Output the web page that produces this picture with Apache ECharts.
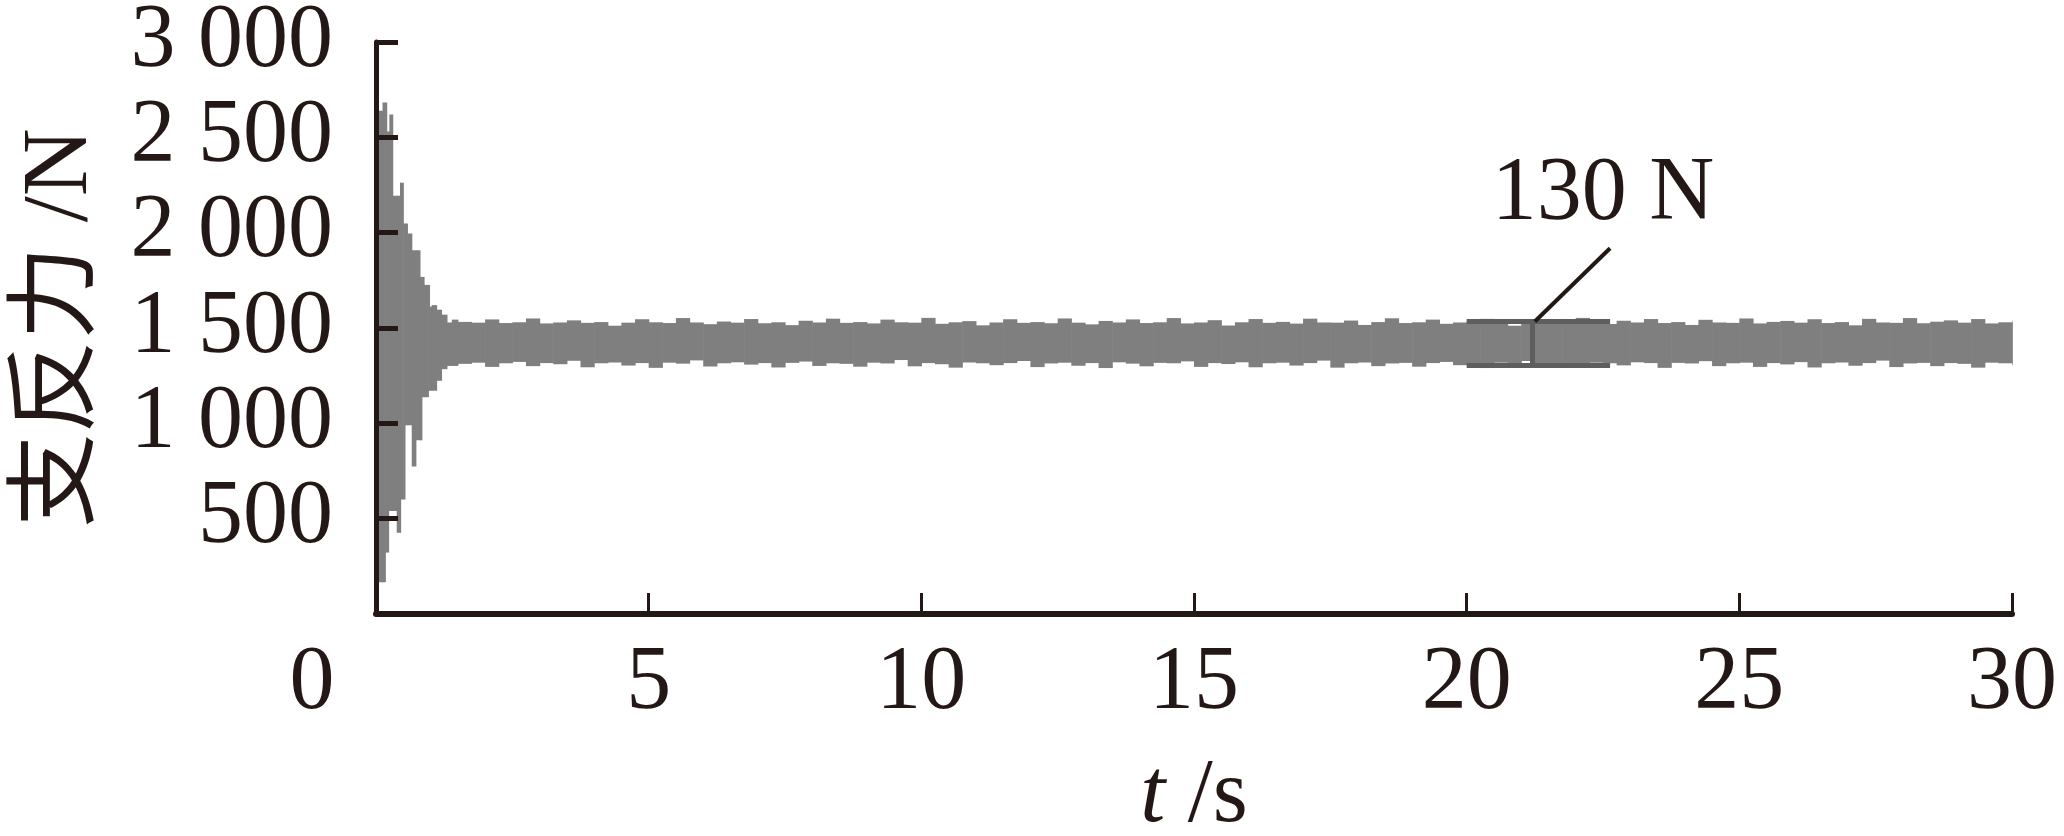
<!DOCTYPE html>
<html>
<head>
<meta charset="utf-8">
<script src="https://cdn.jsdelivr.net/npm/echarts@6.0.0/dist/echarts.min.js"></script>
<style>
html,body{margin:0;padding:0;background:#fff;}
#chart{width:2064px;height:836px;}
</style>
</head>
<body>
<div id="chart"></div>
<script>
// ---- data ----
const xTicks = [0, 5, 10, 15, 20, 25, 30];
const yTicks = [0, 500, 1000, 1500, 2000, 2500, 3000];

// transient part: envelope of the oscillation (s, N)
const transientT     = [0.00, 0.12, 0.17, 0.195, 0.23, 0.245, 0.305, 0.38, 0.44, 0.45, 0.50, 0.53, 0.575, 0.655, 0.73, 0.805, 0.84, 0.88, 0.96, 0.98, 1.02, 1.11, 1.20, 1.30, 1.39];
const transientUpper = [2640, 2683, 2683, 2530, 2530, 2620, 2194, 2194, 2262, 2262, 2048, 2048, 1996, 1908, 1908, 1768, 1768, 1726, 1726, 1612, 1620, 1596, 1570, 1529, 1544];
const transientLower = [166, 166, 322, 322, 540, 540, 540, 426, 426, 600, 600, 990, 990, 773, 911, 911, 1137, 1137, 1171, 1171, 1171, 1223, 1284, 1301, 1301];

// steady part: envelope read every 0.25 s from 1.5 s to 30 s
const steadyStart = 1.5;
const steadyStep = 0.25;
const steadyUpper = [
1532,1528,1545,1526,1530,1550,1524,1529,1540,1527,
1531,1512,1528,1546,1530,1526,1552,1529,1520,1534,
1528,1547,1525,1530,1515,1538,1529,1549,1527,1531,
1524,1544,1530,1528,1553,1522,1530,1536,1514,1529,
1546,1527,1531,1525,1550,1528,1519,1537,1529,1545,
1526,1530,1552,1524,1529,1541,1513,1530,1547,1527,
1532,1523,1549,1529,1528,1539,1516,1531,1551,1526,
1530,1544,1522,1529,1535,1548,1527,1512,1531,1545,
1528,1525,1553,1530,1521,1538,1529,1547,1526,1531,
1516,1543,1529,1527,1550,1524,1532,1537,1528,1546,
1526,1531,1514,1548,1529,1527,1552,1525,1533,1540,
1528,1547,1524,1530,1538];
const steadyLower = [
1312,1318,1296,1315,1322,1300,1316,1310,1328,1294,
1315,1319,1303,1316,1291,1318,1313,1330,1298,1315,
1320,1308,1316,1293,1317,1324,1301,1315,1312,1297,
1318,1314,1332,1299,1316,1310,1292,1319,1315,1305,
1316,1327,1295,1314,1318,1302,1316,1290,1320,1313,
1299,1317,1315,1325,1296,1316,1311,1320,1294,1315,
1318,1303,1316,1329,1292,1315,1319,1300,1314,1317,
1297,1316,1322,1305,1315,1290,1318,1313,1327,1299,
1316,1312,1294,1318,1315,1304,1320,1316,1291,1317,
1314,1326,1300,1315,1318,1296,1316,1309,1321,1293,
1315,1319,1302,1316,1329,1295,1314,1317,1300,1316,
1312,1292,1318,1315,1304];

// annotation (s, N)
const bracketStartT = 20.0;
const bracketEndT = 22.63;
const bracketMidT = 21.2;
const bracketTopN = 1534;
const bracketBottomN = 1305;
const leaderEnd = [22.63, 1918];
const annotationText = '130 N';
const annotationPos = [22.5, 2194];

// ---- build series data: segments [tStart, tEnd, lower, upper] ----
const env = [];
transientT.forEach((t, i) => env.push([t, transientLower[i], transientUpper[i]]));
steadyUpper.forEach((u, i) => env.push([steadyStart + steadyStep * i, steadyLower[i], u]));
const segments = env.map((p, i) => [p[0], i + 1 < env.length ? env[i + 1][0] : xTicks[xTicks.length - 1], p[1], p[2]]);

const INK = '#231815';
const BAND = '#7f7f7f';
const SERIF = '"Liberation Serif", "Times New Roman", serif';
const CJK = '"Liberation Serif", "Noto Sans CJK SC", serif';

function fmtY(v) {
  if (v === 0) return '';
  if (v >= 1000) {
    const r = v % 1000;
    return Math.floor(v / 1000) + ' ' + String(r).padStart(3, '0');
  }
  return String(v);
}

const chart = echarts.init(document.getElementById('chart'), null, {renderer: 'canvas'});
chart.setOption({
  animation: false,
  backgroundColor: '#ffffff',
  grid: {left: 376, right: 52, top: 42, bottom: 222, containLabel: false, outerBoundsMode: 'none'},
  xAxis: {
    type: 'value', min: xTicks[0], max: xTicks[xTicks.length - 1], interval: 5,
    z: 10,
    name: '{i|t} /s',
    nameLocation: 'middle',
    nameGap: 138,
    nameTextStyle: {
      fontFamily: SERIF, fontSize: 90, color: INK,
      rich: {i: {fontFamily: SERIF, fontSize: 90, fontStyle: 'italic', color: INK}}
    },
    axisLine: {show: true, lineStyle: {color: INK, width: 6}},
    axisTick: {show: true, inside: true, length: 21, lineStyle: {color: INK, width: 3}},
    axisLabel: {
      show: true, margin: 25, color: INK, fontFamily: SERIF, fontSize: 90,
      formatter: function (v) { return v === 0 ? '{z|0}' : String(v); },
      rich: {z: {fontFamily: SERIF, fontSize: 90, color: INK, padding: [0, 128, 0, 0]}}
    },
    splitLine: {show: false}
  },
  yAxis: {
    type: 'value', min: yTicks[0], max: yTicks[yTicks.length - 1], interval: 500,
    z: 10,
    name: '支反力 /N',
    nameLocation: 'middle',
    nameGap: 268,
    nameTextStyle: {fontFamily: CJK, fontSize: 94, color: INK},
    axisLine: {show: true, lineStyle: {color: INK, width: 5}},
    axisTick: {show: true, inside: true, length: 22, lineStyle: {color: INK, width: 5}},
    axisLabel: {show: true, margin: 43, color: INK, fontFamily: SERIF, fontSize: 90, formatter: fmtY},
    splitLine: {show: false}
  },
  series: [
    {
      type: 'custom', name: 'band', data: segments, silent: true, z: 2,
      encode: {x: [0, 1], y: [2, 3]},
      renderItem: function (params, api) {
        const p0 = api.coord([api.value(0), api.value(3)]);
        const p1 = api.coord([api.value(1), api.value(2)]);
        return {
          type: 'rect',
          shape: {x: p0[0], y: p0[1], width: p1[0] - p0[0] + 0.6, height: p1[1] - p0[1]},
          style: {fill: BAND, stroke: null}
        };
      }
    },
    {
      type: 'line', name: 'annotation', data: [], z: 5,
      markLine: {
        silent: true, symbol: 'none', animation: false,
        label: {show: false},
        data: [
          [{coord: [bracketStartT, bracketTopN], lineStyle: {color: '#5e5e5e', width: 5, type: 'solid'}}, {coord: [bracketEndT, bracketTopN]}],
          [{coord: [bracketStartT, bracketBottomN], lineStyle: {color: '#5e5e5e', width: 5, type: 'solid'}}, {coord: [bracketEndT, bracketBottomN]}],
          [{coord: [bracketMidT, bracketTopN], lineStyle: {color: '#5e5e5e', width: 5, type: 'solid'}}, {coord: [bracketMidT, bracketBottomN]}],
          [{coord: [bracketMidT + 0.05, bracketTopN], lineStyle: {color: INK, width: 4, type: 'solid'}}, {coord: leaderEnd}]
        ]
      }
    },
    {
      type: 'scatter', name: 'label', data: [annotationPos], symbolSize: 0, silent: true, z: 6,
      itemStyle: {opacity: 1},
      label: {show: true, position: 'inside', formatter: annotationText, color: INK, textBorderWidth: 0, fontFamily: SERIF, fontSize: 90}
    }
  ]
});
</script>
</body>
</html>
